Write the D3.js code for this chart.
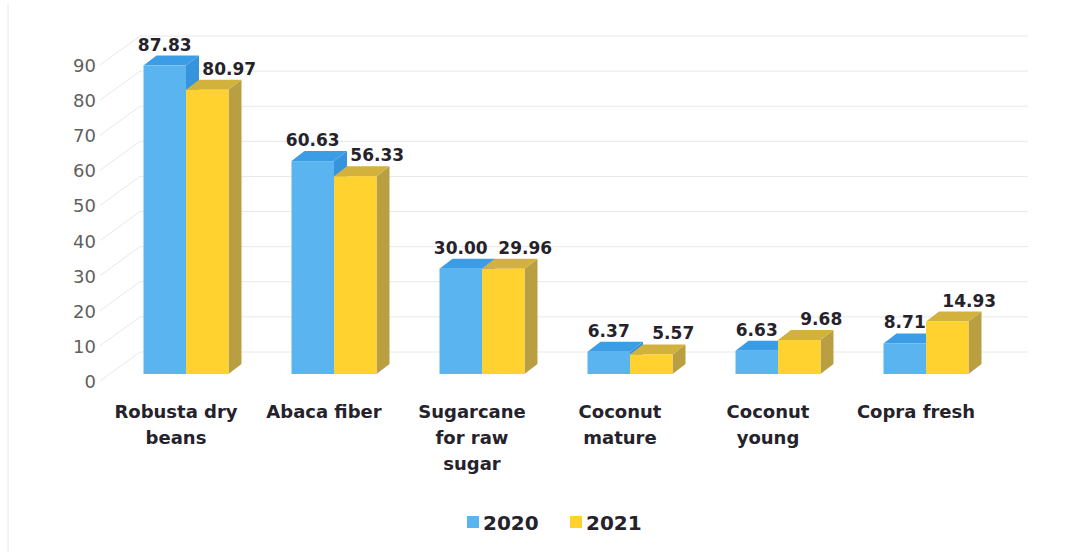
<!DOCTYPE html>
<html>
<head>
<meta charset="utf-8">
<script src="https://cdn.jsdelivr.net/npm/d3@7"></script>
<style>
  html, body { margin: 0; padding: 0; background: #ffffff; }
  svg { display: block; }
</style>
</head>
<body>
<svg id="chart" width="1085" height="556"></svg>
<script>
// ---- data ----
const categories = [
  ["Robusta dry", "beans"],
  ["Abaca fiber"],
  ["Sugarcane", "for raw", "sugar"],
  ["Coconut", "mature"],
  ["Coconut", "young"],
  ["Copra fresh"]
];
const seriesNames = ["2020", "2021"];
const values2020 = [87.83, 60.63, 30.00, 6.37, 6.63, 8.71];
const values2021 = [80.97, 56.33, 29.96, 5.57, 9.68, 14.93];
const yTicks = [0, 10, 20, 30, 40, 50, 60, 70, 80, 90];

// ---- layout ----
const svg = d3.select("#chart");
const FONT = "'DejaVu Sans', sans-serif";
const colors = {
  "2020": { front: "#5AB4F0", top: "#3B9DE6", side: "#3694DC" },
  "2021": { front: "#FFD22F", top: "#D2B23C", side: "#B99F42" }
};

// front-plane scales
const y = d3.scaleLinear().domain([0, 90]).range([381, 65]);
const x = d3.scaleBand().domain(d3.range(categories.length)).range([102, 990]).paddingInner(0).paddingOuter(0);
const series = d3.scaleBand().domain(seriesNames).range([0, 85]);

// 3D depth offsets
const wallDX = 40, wallDY = -29;     // back wall
const barDX0 = 10, barDY0 = -7;      // bar front plane offset
const barDX = 13, barDY = -10;       // bar depth

// faint frame line on left
svg.append("line").attr("x1", 8).attr("x2", 8).attr("y1", 4).attr("y2", 552)
  .attr("stroke", "#e8e8e8").attr("stroke-width", 1);

// gridlines: back wall + floor-side diagonal
const grid = svg.append("g");
yTicks.forEach(t => {
  grid.append("line")
    .attr("x1", 100).attr("y1", y(t))
    .attr("x2", 100 + wallDX).attr("y2", y(t) + wallDY)
    .attr("stroke", "#e8e8e8").attr("stroke-width", 1);
  grid.append("line")
    .attr("x1", 100 + wallDX).attr("y1", y(t) + wallDY)
    .attr("x2", 1028).attr("y2", y(t) + wallDY)
    .attr("stroke", "#e8e8e8").attr("stroke-width", 1);
});

// y axis labels
const yAxis = d3.axisLeft(y).tickValues(yTicks).tickSize(0).tickPadding(0);
const yg = svg.append("g").attr("transform", "translate(96,0)").call(yAxis);
yg.select(".domain").remove();
yg.selectAll("text")
  .attr("font-family", FONT).attr("font-size", 18).attr("fill", "#5f5f5f")
  .attr("dy", "0.36em");

// bars
const bw = series.bandwidth();
const barsG = svg.append("g");
function drawBar(cx, v, s) {
  const x0 = cx + barDX0, x1 = x0 + bw;
  const yb = y(0) + barDY0, yt = y(v) + barDY0;
  const c = colors[s];
  const g = barsG.append("g");
  g.append("path").attr("d", d3.line()([
    [x1, yt], [x1 + barDX, yt + barDY], [x1 + barDX, yb + barDY], [x1, yb]
  ]) + "Z").attr("fill", c.side);
  g.append("path").attr("d", d3.line()([
    [x0, yt], [x0 + barDX, yt + barDY], [x1 + barDX, yt + barDY], [x1, yt]
  ]) + "Z").attr("fill", c.top);
  g.append("rect").attr("x", x0).attr("y", yt).attr("width", bw).attr("height", yb - yt)
    .attr("fill", c.front);
}
const labelsG = svg.append("g");
categories.forEach((cat, i) => {
  const groupLeft = x(i) + x.bandwidth() / 2 - 42.5;
  [values2020, values2021].forEach((vals, si) => {
    const s = seriesNames[si];
    drawBar(groupLeft + series(s), vals[i], s);
  });
});
categories.forEach((cat, i) => {
  const groupLeft = x(i) + x.bandwidth() / 2 - 42.5;
  [values2020, values2021].forEach((vals, si) => {
    const s = seriesNames[si];
    const cx = groupLeft + series(s) + barDX0 + bw / 2 + (si === 1 ? 22 : 0);
    labelsG.append("text")
      .attr("x", cx).attr("y", y(vals[i]) + barDY0 + barDY - 5)
      .attr("text-anchor", "middle")
      .attr("font-family", FONT).attr("font-weight", "bold").attr("font-size", 17)
      .attr("fill", "#25222b")
      .text(vals[i].toFixed(2));
  });
});

// category labels
const xg = svg.append("g");
categories.forEach((lines, i) => {
  const t = xg.append("text")
    .attr("x", x(i) + x.bandwidth() / 2)
    .attr("y", 418)
    .attr("text-anchor", "middle")
    .attr("font-family", FONT).attr("font-weight", "bold").attr("font-size", 18)
    .attr("fill", "#25222b");
  lines.forEach((ln, k) => {
    t.append("tspan").attr("x", x(i) + x.bandwidth() / 2).attr("dy", k === 0 ? 0 : 26).text(ln);
  });
});

// legend
const legend = svg.append("g");
const legendItems = [{ name: "2020", x: 467 }, { name: "2021", x: 570 }];
legendItems.forEach(it => {
  legend.append("rect").attr("x", it.x).attr("y", 516).attr("width", 12).attr("height", 12)
    .attr("fill", colors[it.name].front);
  legend.append("text").attr("x", it.x + 16).attr("y", 530)
    .attr("font-family", FONT).attr("font-weight", "bold").attr("font-size", 20)
    .attr("fill", "#25222b").text(it.name);
});
</script>
</body>
</html>
